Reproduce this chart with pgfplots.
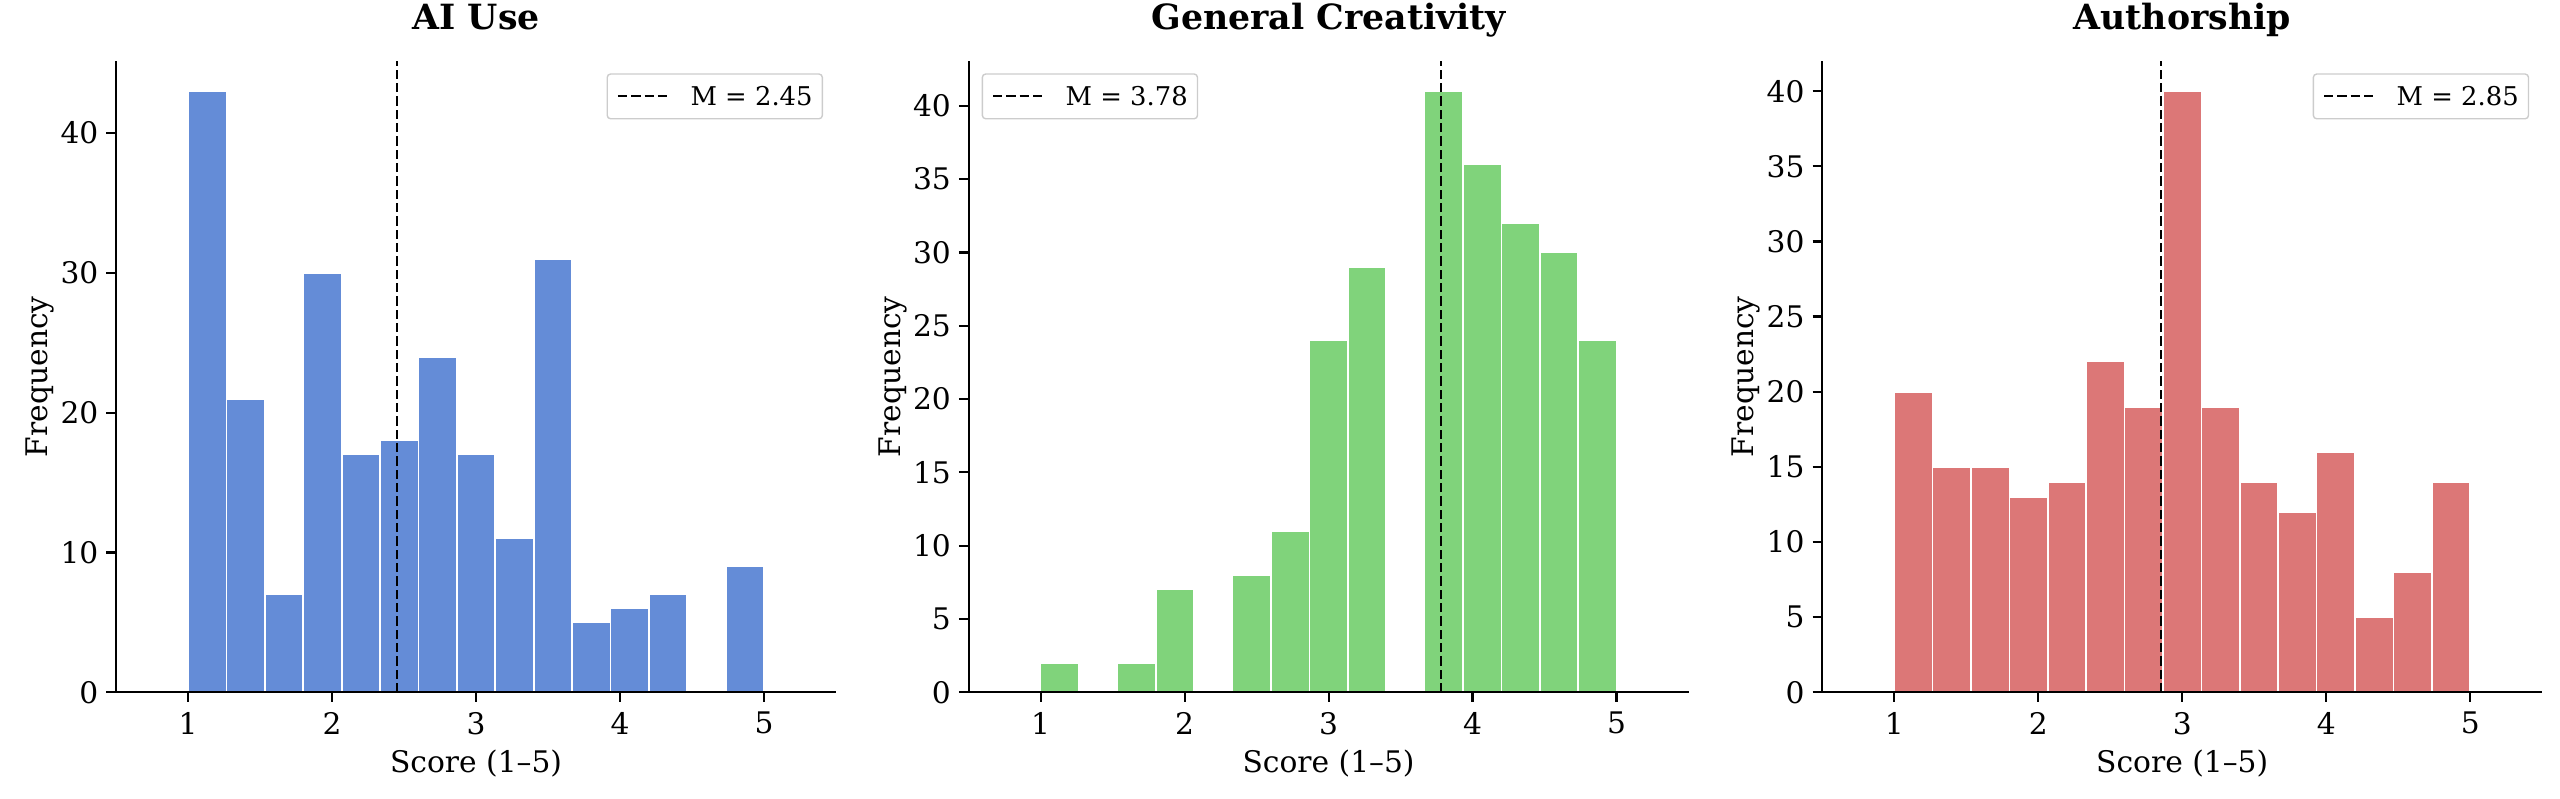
\documentclass[border=0pt]{standalone}
\usepackage{fontspec}
\setmainfont{DejaVu Serif}
\usepackage{pgfplots}
\pgfplotsset{compat=1.18}

\definecolor{histblue}{RGB}{100,140,215}
\definecolor{histgreen}{RGB}{128,211,123}
\definecolor{histred}{RGB}{220,119,119}

\pgfplotsset{
  histpanel/.style={
    scale only axis,
    width=259.2pt, height=227.2pt,
    anchor=south west,
    xmin=0.5, xmax=5.5, ymin=0,
    enlargelimits=false,
    axis x line*=bottom, axis y line*=left,
    axis line style={-, line width=0.8pt, black},
    axis on top,
    xtick={1,2,3,4,5},
    tick align=outside,
    major tick length=3.5pt,
    tick style={line width=0.8pt, black},
    /pgf/number format/assume math mode=true,
    ticklabel style={font=\fontsize{10.7}{12}\selectfont, inner sep=0pt},
    xticklabel style={yshift=-3.45pt},
    yticklabel style={xshift=-2.7pt},
    xlabel={Score (1–5)},
    ylabel={Frequency},
    label style={font=\fontsize{10.7}{12}\selectfont, inner sep=0pt},
    xlabel style={at={(axis description cs:0.5,-0.1268)}, anchor=base},
    ylabel style={at={(axis description cs:-0.0945,0.5)}, anchor=south, text depth=0pt},
    title style={at={(axis description cs:0.5,1)}, anchor=base, yshift=5.4pt,
      font=\fontsize{12.5}{15}\selectfont\bfseries},
    legend style={draw=black!20, line width=0.5pt, rounded corners=1.2pt,
      fill=white, fill opacity=0.8, text opacity=1,
      inner xsep=3.5pt, inner ysep=4.6pt,
      font=\fontsize{9.3}{11}\selectfont,
      nodes={inner sep=0pt, text depth=0pt}},
    legend image code/.code={
      \draw[#1] (0pt,0pt) -- (18pt,0pt);
      \path (25.8pt,0pt);
    },
  },
  meanline/.style={black, line width=0.7pt, dash pattern=on 3.35pt off 1.45pt},
  histbars/.style={ybar interval, draw=white, line width=0.6pt, fill=#1},
}

\begin{document}
\begin{tikzpicture}
\useasboundingbox (-41.8pt,-38.2pt) rectangle (879.8pt,249.2pt);

% AI Use
\begin{axis}[histpanel, at={(0pt,0pt)}, ymax=45.15, ytick={0,10,20,30,40},
  title={AI Use},
  legend style={at={(axis description cs:1,1)}, anchor=north east, xshift=-4.7pt, yshift=-4.4pt}]
\addplot[histbars=histblue, forget plot] coordinates {
  (1.0000,43) (1.2667,21) (1.5333,7) (1.8000,30) (2.0667,17) (2.3333,18)
  (2.6000,24) (2.8667,17) (3.1333,11) (3.4000,31) (3.6667,5) (3.9333,6)
  (4.2000,7) (4.4667,0) (4.7333,9) (5.0000,9)};
\addplot[meanline] coordinates {(2.45,0) (2.45,45.15)};
\addlegendentry{M = 2.45}
\end{axis}

% General Creativity
\begin{axis}[histpanel, at={(306.9pt,0pt)}, ymax=43.05, ytick={0,5,...,40},
  title={General Creativity},
  legend style={at={(axis description cs:0,1)}, anchor=north west, xshift=4.7pt, yshift=-4.4pt}]
\addplot[histbars=histgreen, forget plot] coordinates {
  (1.0000,2) (1.2667,0) (1.5333,2) (1.8000,7) (2.0667,0) (2.3333,8)
  (2.6000,11) (2.8667,24) (3.1333,29) (3.4000,0) (3.6667,41) (3.9333,36)
  (4.2000,32) (4.4667,30) (4.7333,24) (5.0000,24)};
\addplot[meanline] coordinates {(3.78,0) (3.78,43.05)};
\addlegendentry{M = 3.78}
\end{axis}

% Authorship
\begin{axis}[histpanel, at={(614.2pt,0pt)}, ymax=42, ytick={0,5,...,40},
  title={Authorship},
  legend style={at={(axis description cs:1,1)}, anchor=north east, xshift=-4.7pt, yshift=-4.4pt}]
\addplot[histbars=histred, forget plot] coordinates {
  (1.0000,20) (1.2667,15) (1.5333,15) (1.8000,13) (2.0667,14) (2.3333,22)
  (2.6000,19) (2.8667,40) (3.1333,19) (3.4000,14) (3.6667,12) (3.9333,16)
  (4.2000,5) (4.4667,8) (4.7333,14) (5.0000,14)};
\addplot[meanline] coordinates {(2.85,0) (2.85,42)};
\addlegendentry{M = 2.85}
\end{axis}
\end{tikzpicture}
\end{document}
